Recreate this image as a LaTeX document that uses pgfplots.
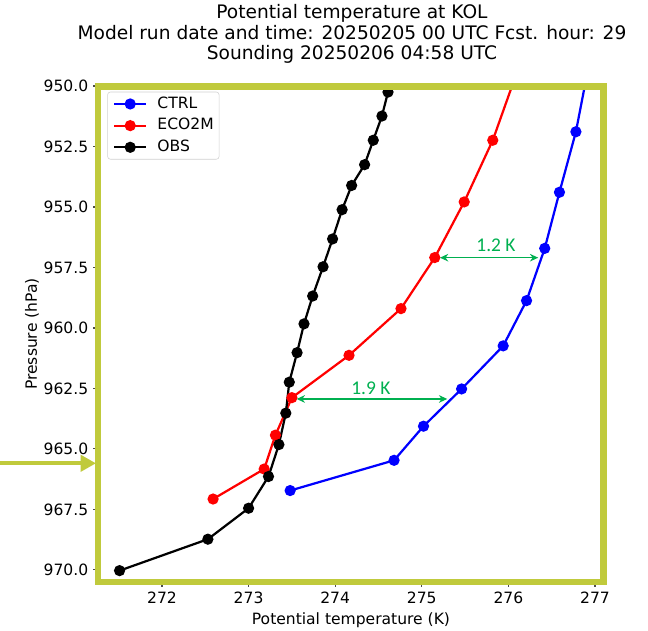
\documentclass[border=0pt]{standalone}
\usepackage{fontspec}
\setmainfont{DejaVu Sans}
\newfontfamily\annfont{Carlito}
\usepackage{pgfplots}
\pgfplotsset{compat=1.18}
\usetikzlibrary{arrows.meta}
\definecolor{framecol}{RGB}{192,202,60}
\definecolor{anngreen}{RGB}{0,176,80}

\begin{document}
\begin{tikzpicture}
% picture = 648 x 630 px, 1 px = 0.72pt, axis box lower-left at px (98,582)
\useasboundingbox (-70.56pt,-34.56pt) rectangle (396pt,419.04pt);
\begin{axis}[
    name=ax,
    scale only axis,
    width=364.3pt, height=357.1pt,
    xmin=271.261, xmax=277.104,
    ymin=950, ymax=970.5,
    y dir=reverse,
    xtick={272,273,274,275,276,277},
    ytick={950,952.5,955,957.5,960,962.5,965,967.5,970},
    /pgf/number format/assume math mode=true,
    yticklabel style={/pgf/number format/.cd, fixed, fixed zerofill, precision=1},
    xticklabel style={/pgf/number format/.cd, fixed, precision=0},
    tick label style={font=\fontsize{11.2}{13}\selectfont},
    tick align=outside, tick pos=left,
    major tick length=3.5pt,
    tick style={black!70, line width=0.8pt},
    xlabel={Potential temperature (K)},
    ylabel={Pressure (hPa)},
    label style={font=\fontsize{11.2}{13}\selectfont},
    xlabel style={at={(axis description cs:0.5,-0.0766)}, anchor=center},
    ylabel style={at={(axis description cs:-0.1304,0.5)}, anchor=center},
    legend cell align=left,
    legend style={at={(0.0184,0.9885)}, anchor=north west,
        draw=black!18, rounded corners=2pt,
        font=\fontsize{11.2}{13}\selectfont,
        inner xsep=3.9pt, inner ysep=3.5pt,
        nodes={inner sep=0pt, text height=8.2pt, text depth=2pt},
        column sep=7.2pt, row sep=5.4pt},
    legend image code/.code={
        \draw[mark repeat=2, mark phase=2, #1] plot coordinates {(0pt,0pt) (11.6pt,0pt) (23.2pt,0pt)};},
    every axis plot/.append style={line width=1.6pt, mark=*, mark size=3.2pt},
]
\addplot[color=blue, mark options={fill=blue}] coordinates {
    (273.48,966.72) (274.68,965.47) (275.02,964.06) (275.46,962.52)
    (275.94,960.74) (276.21,958.87) (276.42,956.71) (276.59,954.39)
    (276.78,951.89) (276.93,949.12)
};
\addlegendentry{CTRL}
\addplot[color=red, mark options={fill=red}] coordinates {
    (272.59,967.07) (273.18,965.83) (273.31,964.43) (273.50,962.88)
    (274.16,961.13) (274.76,959.20) (275.15,957.09) (275.49,954.79)
    (275.82,952.24) (276.10,949.42)
};
\addlegendentry{ECO2M}
\addplot[color=black, mark options={fill=black}] coordinates {
    (271.51,970.03) (272.53,968.73) (273.00,967.45) (273.23,966.14)
    (273.35,964.82) (273.43,963.52) (273.47,962.24) (273.56,961.02)
    (273.64,959.83) (273.74,958.68) (273.86,957.47) (273.97,956.32)
    (274.08,955.11) (274.19,954.11) (274.34,953.25) (274.44,952.24)
    (274.54,951.24) (274.61,950.25)
};
\addlegendentry{OBS}
% difference annotations
\draw[anngreen, line width=0.8pt, {Stealth[length=6pt,width=5.5pt]}-{Stealth[length=6pt,width=5.5pt]}]
    (axis cs:275.21,957.095) -- (axis cs:276.345,957.095);
\node[anngreen, font=\annfont\fontsize{14}{16}\selectfont] at (axis cs:275.857,956.60) {1.2 K};
\draw[anngreen, line width=0.8pt, {Stealth[length=6pt,width=5.5pt]}-{Stealth[length=6pt,width=5.5pt]}]
    (axis cs:273.555,962.934) -- (axis cs:275.294,962.934);
\node[anngreen, font=\annfont\fontsize{14}{16}\selectfont] at (axis cs:274.413,962.48) {1.9 K};
\end{axis}
% highlight frame and pointer
\draw[framecol, line width=5pt] (ax.south west) rectangle (ax.north east);
\begin{scope}[shift={(-70.56pt,419.04pt)}, x=0.72pt, y=-0.72pt]
\draw[framecol, line width=2.9pt, -{Triangle[length=11pt,width=11.5pt]}] (0,463.3) -- (96,463.3);
\node[align=center, font=\fontsize{13.4}{14.6}\selectfont] at (352,34)
    {Potential temperature at KOL\\
     Model run date and time: 20250205 00 UTC Fcst. hour: 29\\
     Sounding 20250206 04:58 UTC};
\end{scope}
\end{tikzpicture}
\end{document}
